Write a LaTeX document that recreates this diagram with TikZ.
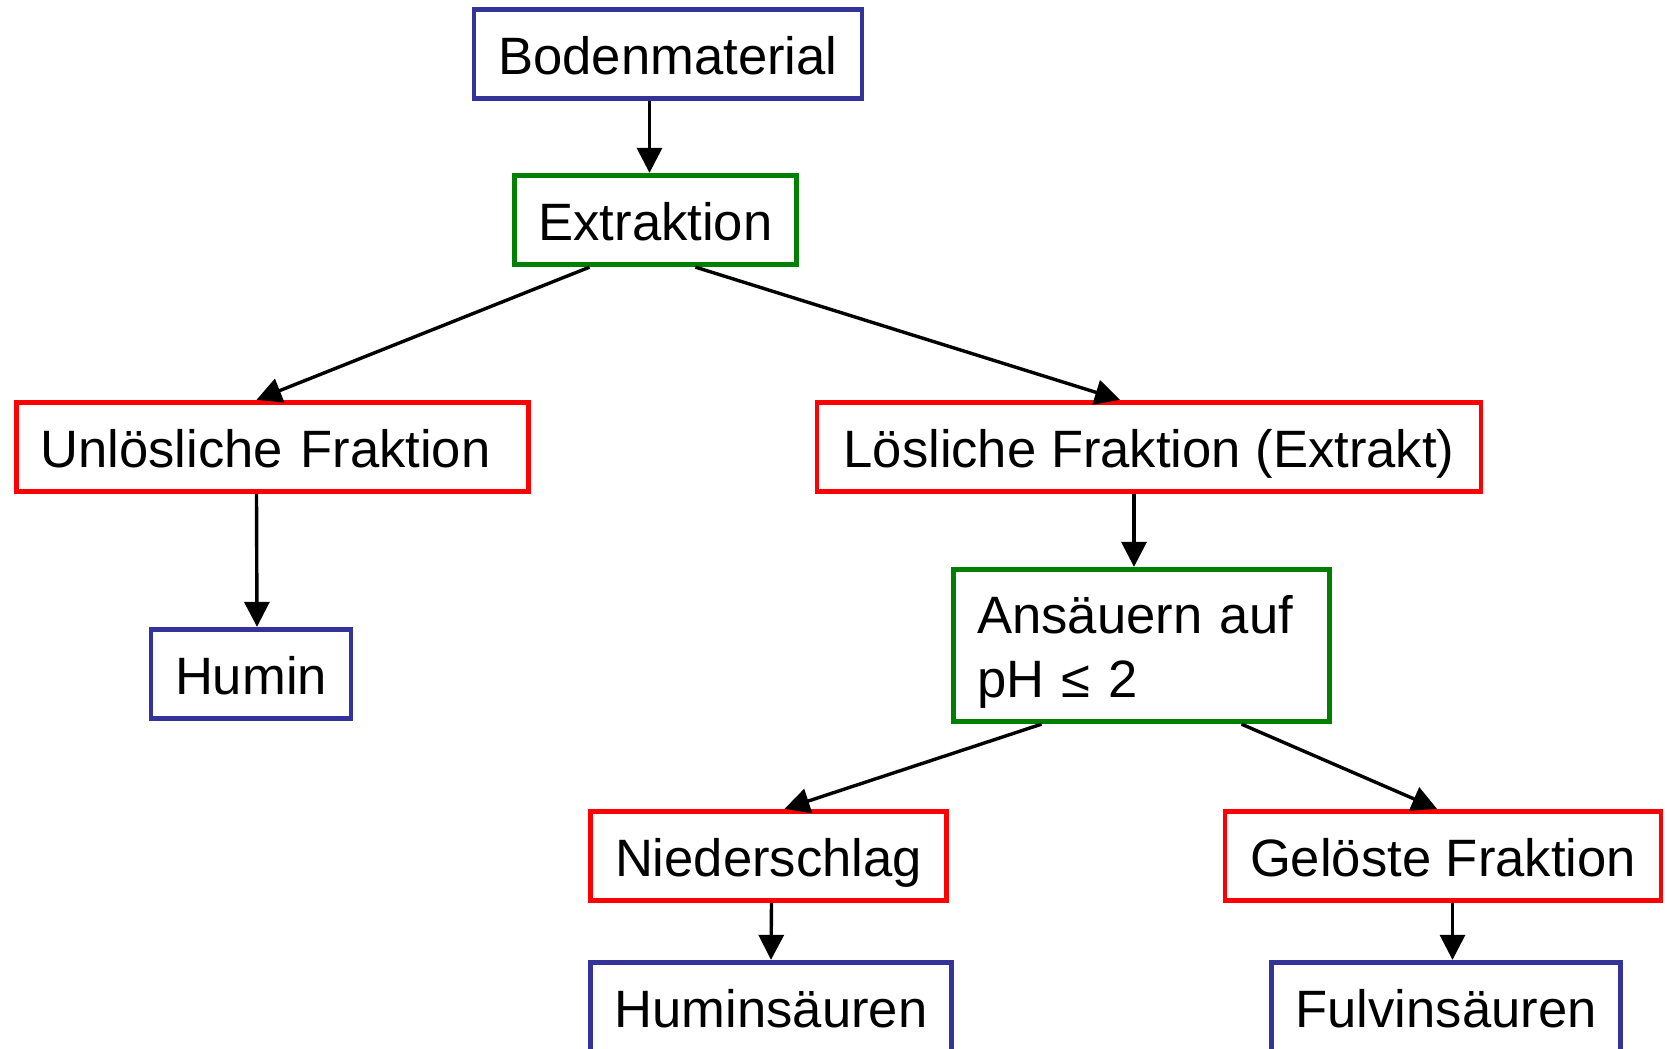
\documentclass[tikz,border=0pt]{standalone}
\usepackage{fontspec}
\setmainfont{Liberation Sans}
\usetikzlibrary{arrows.meta}
\definecolor{boxblue}{RGB}{51,51,153}
\definecolor{boxgreen}{RGB}{0,128,0}
\definecolor{boxred}{RGB}{255,0,0}

\begin{document}
\begin{tikzpicture}[x=0.5pt, y=-0.5pt,
                box/.style = {draw, line width=2.4pt, minimum height=44.75pt,
                              inner xsep=12pt, inner ysep=0pt, align=left,
                              text height=20pt, text depth=0pt,
                              font=\fontsize{26.3pt}{32pt}\selectfont},
                result/.style = {box, draw=boxblue},
                process/.style = {box, draw=boxgreen},
                fraction/.style = {box, draw=boxred},
                arr/.style = {line width=1.7pt, -{Triangle[length=12.5pt,width=12.5pt]}}
                ]
                \useasboundingbox (0,0) rectangle (1667,1049);
                \node[result, minimum width=194pt] (boden) at (668,54) {Bodenmaterial};
                \node[process, minimum width=140.25pt] (extr) at (655.5,220) {Extraktion};
                \node[fraction, text width=232.25pt] (unl) at (272.5,447) {Unlösliche Fraktion};
                \node[result, minimum width=99.5pt] (humin) at (251,674) {Humin};
                \node[fraction, minimum width=332pt] (loes) at (1149,447) {Lösliche Fraktion (Extrakt)};
                \node[process, text width=164.25pt, minimum height=76.25pt, text height=19.5pt, text depth=32pt] (ans) at (1141.5,645.5) {Ansäuern auf\\pH ≤ 2};
                \node[fraction, minimum width=178.25pt] (nied) at (768.5,856) {Niederschlag};
                \node[result, minimum width=180.75pt] (huminsr) at (771,1007) {Huminsäuren};
                \node[fraction, minimum width=218pt] (gel) at (1443,856) {Gelöste Fraktion};
                \node[result, minimum width=174pt] (fulv) at (1446,1007) {Fulvinsäuren};

                \draw[arr] ([xshift=-3pt]boden.south -| extr.north) -- ([xshift=-3pt]extr.north);
                \draw[arr] ([xshift=-33pt]extr.south) -- ([xshift=-8pt]unl.north);
                \draw[arr] ([xshift=20pt]extr.south) -- ([xshift=-14.5pt]loes.north);
                \draw[arr] ([xshift=-8pt]unl.south) -- ([xshift=3pt]humin.north);
                \draw[arr] ([xshift=-7.5pt]loes.south) -- ([xshift=-3.75pt]ans.north);
                \draw[arr] ([xshift=-50pt]ans.south) -- ([xshift=8pt]nied.north);
                \draw[arr] ([xshift=50pt]ans.south) -- ([xshift=-3pt]gel.north);
                \draw[arr] ([xshift=1.5pt]nied.south) -- (huminsr.north);
                \draw[arr] ([xshift=4.75pt]gel.south) -- ([xshift=3.25pt]fulv.north);
            \end{tikzpicture}
\end{document}
